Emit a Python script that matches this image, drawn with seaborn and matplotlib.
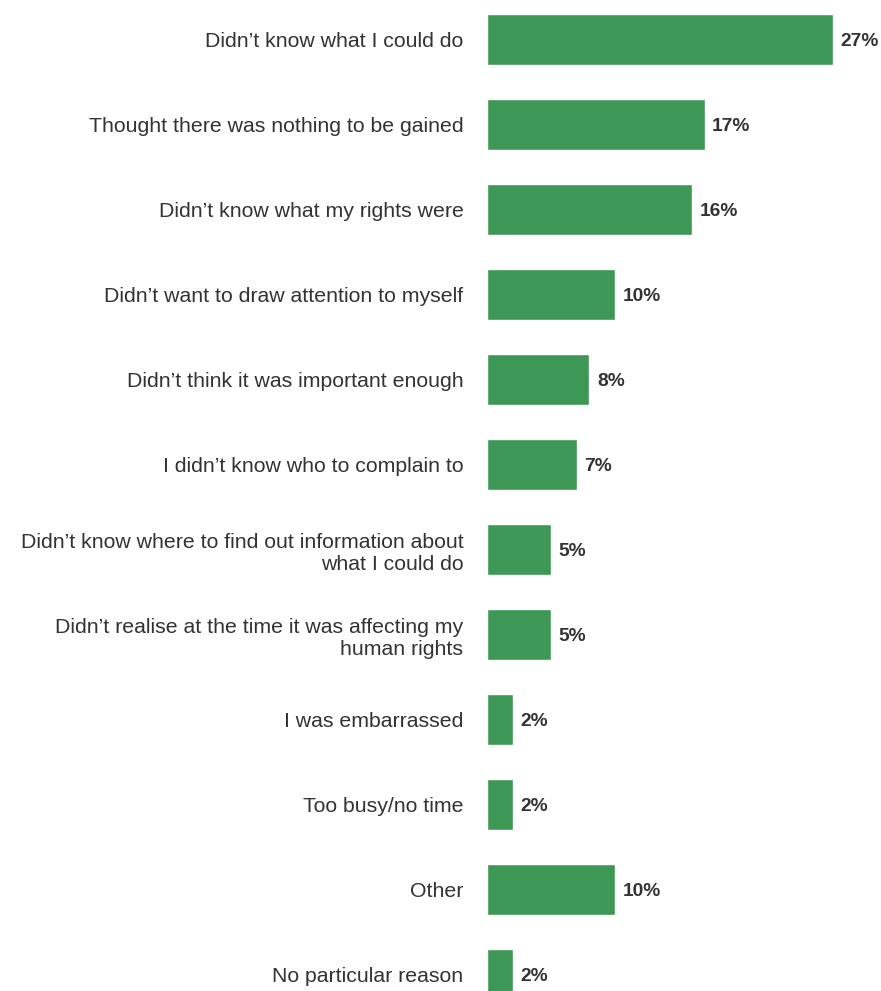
import matplotlib
matplotlib.use("Agg")
import matplotlib.pyplot as plt
import seaborn as sns
import pandas as pd

reasons = [
    "Didn\u2019t know what I could do",
    "Thought there was nothing to be gained",
    "Didn\u2019t know what my rights were",
    "Didn\u2019t want to draw attention to myself",
    "Didn\u2019t think it was important enough",
    "I didn\u2019t know who to complain to",
    "Didn\u2019t know where to find out information about\nwhat I could do",
    "Didn\u2019t realise at the time it was affecting my\nhuman rights",
    "I was embarrassed",
    "Too busy/no time",
    "Other",
    "No particular reason",
]
shares = [27, 17, 16, 10, 8, 7, 5, 5, 2, 2, 10, 2]

df = pd.DataFrame({"reason": reasons, "share": shares})

sns.set_theme(style="white")
plt.rcParams["font.family"] = ["Liberation Sans", "DejaVu Sans"]

fig = plt.figure(figsize=(8.81, 9.91), dpi=100)
ax = fig.add_axes([0.5528, 0.0, 0.4358, 1.0])

bar_color = "#3d9856"
sns.barplot(data=df, x="share", y="reason", orient="h", color=bar_color,
            width=0.6, saturation=1, ax=ax)

ax.set_xlim(0, 30)
ax.set_ylim(11.194, -0.465)
ax.set_xlabel("")
ax.set_ylabel("")
ax.set_xticks([])
for s in ax.spines.values():
    s.set_visible(False)

ax.tick_params(axis="y", length=0, pad=17)
for lbl in ax.get_yticklabels():
    lbl.set_fontsize(15.3)
    lbl.set_color("#333333")
    lbl.set_horizontalalignment("right")
    lbl.set_linespacing(1.2)

for i, v in enumerate(shares):
    ax.annotate(f"{v}%", xy=(v, i), xytext=(5.5, -1.5), textcoords="offset points",
                va="center", ha="left", fontsize=13.8, fontweight="bold",
                color="#333333")

fig.savefig("out.png", dpi=100)
